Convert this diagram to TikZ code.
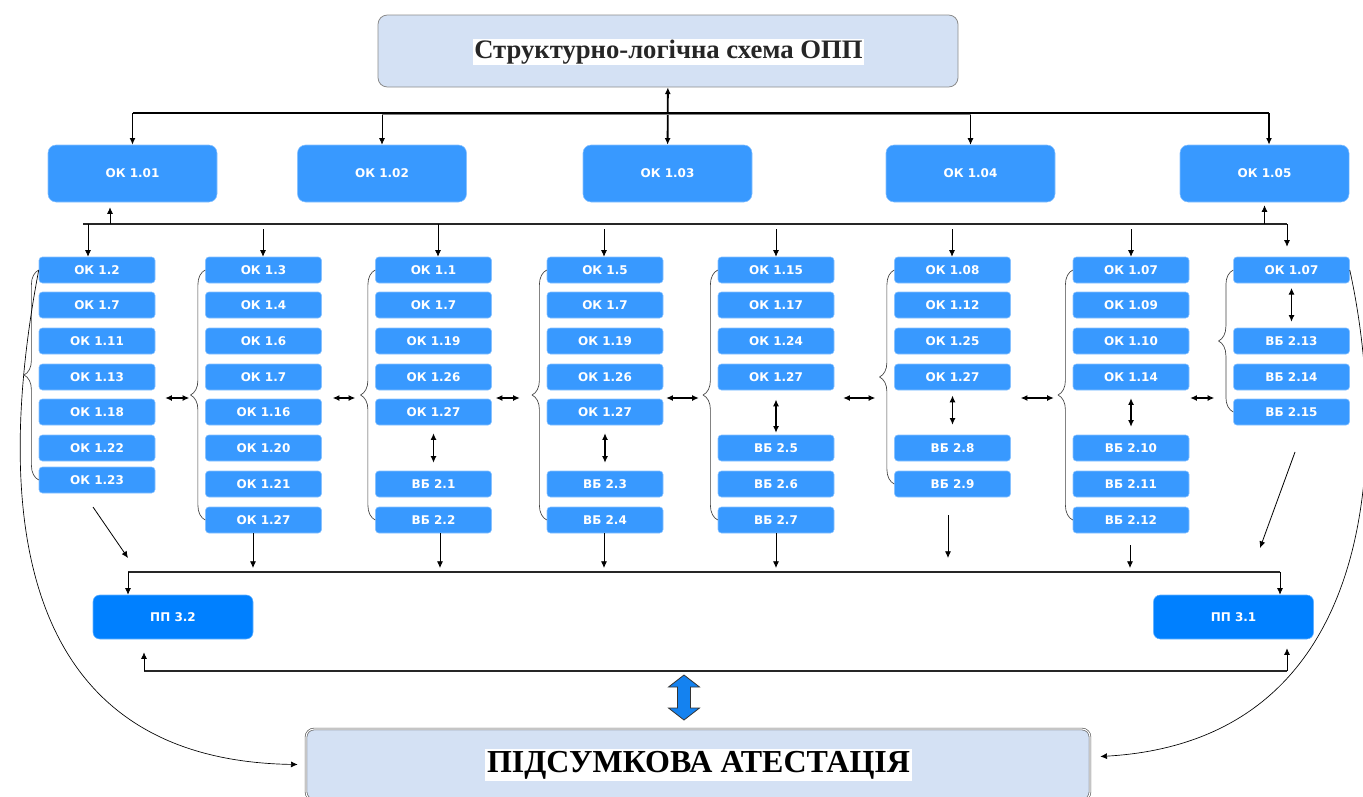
\documentclass[tikz,border=0pt]{standalone}
\usepackage{fontspec}
\setmainfont{Liberation Serif}
\newfontfamily\boxfont{DejaVu Sans}
\usetikzlibrary{arrows.meta,calc,decorations.pathreplacing}
\definecolor{okblue}{RGB}{56,153,255}
\definecolor{ppblue}{RGB}{0,128,255}
\definecolor{headfill}{RGB}{212,225,244}
\definecolor{arrowblue}{RGB}{20,130,240}

\begin{document}
\begin{tikzpicture}[x=0.75pt,y=0.75pt,yscale=-1,xscale=1,
  okbig/.style={rectangle,rounded corners=6pt,fill=okblue,draw=okblue!60!white,line width=0.4pt,minimum width=126.75pt,minimum height=42.75pt,text=white,font=\boxfont\bfseries\fontsize{9}{10}\selectfont},
  oksm/.style={okbig,rounded corners=2.5pt,minimum width=87pt,minimum height=19.5pt},
  ppbox/.style={okbig,fill=ppblue,draw=ppblue!60!white,minimum width=120pt,minimum height=33pt,rounded corners=5pt},
  headbox/.style={rectangle,rounded corners=7pt,fill=headfill,draw=black!45,line width=0.6pt,minimum width=435pt,minimum height=54pt},
  finalbox/.style={rectangle,rounded corners=6pt,fill=headfill,draw=black!65,double=white,double distance=0.8pt,line width=0.5pt,minimum width=588pt,minimum height=53.25pt},
  arr/.style={-{Latex[length=5pt,width=4.5pt]},line width=0.6pt},
  dbl/.style={{Latex[length=5pt,width=4.5pt]}-{Latex[length=5pt,width=4.5pt]},line width=0.8pt},
  brc/.style={decorate,decoration={brace,amplitude=11pt},line width=0.5pt,draw=black!75}]
\useasboundingbox (0,0) rectangle (1363,796);

% header and final boxes
\node[headbox] (title) at (668,51) {};
\node[fill=white,inner sep=1pt,text=black!85,font=\bfseries\fontsize{20}{24}\selectfont] (titletext) at (668.5,52) {Структурно-логічна схема ОПП};
\node[finalbox] (final) at (698,764.5) {};
\node[fill=white,inner sep=1.5pt,font=\bfseries\fontsize{24}{28}\selectfont] (finaltext) at (698.5,765) {ПІДСУМКОВА АТЕСТАЦІЯ};

% first row
\node[okbig] (ok101) at (132.5,173.5) {ОК 1.01};
\node[okbig] (ok102) at (382,173.5) {ОК 1.02};
\node[okbig] (ok103) at (667.5,173.5) {ОК 1.03};
\node[okbig] (ok104) at (970.5,173.5) {ОК 1.04};
\node[okbig] (ok105) at (1264.5,173.5) {ОК 1.05};

% column 1
\node[oksm] (c1a) at (97,270) {ОК 1.2};
\node[oksm] (c1b) at (97,305) {ОК 1.7};
\node[oksm] (c1c) at (97,341) {ОК 1.11};
\node[oksm] (c1d) at (97,377) {ОК 1.13};
\node[oksm] (c1e) at (97,412) {ОК 1.18};
\node[oksm] (c1f) at (97,448) {ОК 1.22};
\node[oksm] (c1g) at (97,480) {ОК 1.23};
% column 2
\node[oksm] (c2a) at (263.5,270) {ОК 1.3};
\node[oksm] (c2b) at (263.5,305) {ОК 1.4};
\node[oksm] (c2c) at (263.5,341) {ОК 1.6};
\node[oksm] (c2d) at (263.5,377) {ОК 1.7};
\node[oksm] (c2e) at (263.5,412) {ОК 1.16};
\node[oksm] (c2f) at (263.5,448) {ОК 1.20};
\node[oksm] (c2g) at (263.5,484) {ОК 1.21};
\node[oksm] (c2h) at (263.5,520) {ОК 1.27};
% column 3
\node[oksm] (c3a) at (433.5,270) {ОК 1.1};
\node[oksm] (c3b) at (433.5,305) {ОК 1.7};
\node[oksm] (c3c) at (433.5,341) {ОК 1.19};
\node[oksm] (c3d) at (433.5,377) {ОК 1.26};
\node[oksm] (c3e) at (433.5,412) {ОК 1.27};
\node[oksm] (c3f) at (433.5,484) {ВБ 2.1};
\node[oksm] (c3g) at (433.5,520) {ВБ 2.2};
% column 4
\node[oksm] (c4a) at (605,270) {ОК 1.5};
\node[oksm] (c4b) at (605,305) {ОК 1.7};
\node[oksm] (c4c) at (605,341) {ОК 1.19};
\node[oksm] (c4d) at (605,377) {ОК 1.26};
\node[oksm] (c4e) at (605,412) {ОК 1.27};
\node[oksm] (c4f) at (605,484) {ВБ 2.3};
\node[oksm] (c4g) at (605,520) {ВБ 2.4};
% column 5
\node[oksm] (c5a) at (776,270) {ОК 1.15};
\node[oksm] (c5b) at (776,305) {ОК 1.17};
\node[oksm] (c5c) at (776,341) {ОК 1.24};
\node[oksm] (c5d) at (776,377) {ОК 1.27};
\node[oksm] (c5e) at (776,448) {ВБ 2.5};
\node[oksm] (c5f) at (776,484) {ВБ 2.6};
\node[oksm] (c5g) at (776,520) {ВБ 2.7};
% column 6
\node[oksm] (c6a) at (952.5,270) {ОК 1.08};
\node[oksm] (c6b) at (952.5,305) {ОК 1.12};
\node[oksm] (c6c) at (952.5,341) {ОК 1.25};
\node[oksm] (c6d) at (952.5,377) {ОК 1.27};
\node[oksm] (c6e) at (952.5,448) {ВБ 2.8};
\node[oksm] (c6f) at (952.5,484) {ВБ 2.9};
% column 7
\node[oksm] (c7a) at (1131,270) {ОК 1.07};
\node[oksm] (c7b) at (1131,305) {ОК 1.09};
\node[oksm] (c7c) at (1131,341) {ОК 1.10};
\node[oksm] (c7d) at (1131,377) {ОК 1.14};
\node[oksm] (c7e) at (1131,448) {ВБ 2.10};
\node[oksm] (c7f) at (1131,484) {ВБ 2.11};
\node[oksm] (c7g) at (1131,520) {ВБ 2.12};
% column 8
\node[oksm] (c8a) at (1291.5,270) {ОК 1.07};
\node[oksm] (c8b) at (1291.5,341) {ВБ 2.13};
\node[oksm] (c8c) at (1291.5,377) {ВБ 2.14};
\node[oksm] (c8d) at (1291.5,412) {ВБ 2.15};

% practice
\node[ppbox] (pp32) at (173,617) {ПП 3.2};
\node[ppbox] (pp31) at (1233.5,617) {ПП 3.1};

% top bus
\coordinate (tb) at (0,113);
\coordinate (tb2) at (0,114.5);
\draw[dbl,line width=1.4pt] (title) -- (ok103);
\draw[line width=1.4pt] (ok101.north |- tb) -- (1269,113) coordinate (tbr);
\draw[black!50,line width=1.2pt] (ok102.north |- tb2) -- (ok104.north |- tb2);
\draw[arr,line width=1.4pt] (ok101.north |- tb) -- (ok101);
\draw[arr] (ok102.north |- tb2) -- (ok102);
\draw[arr] (ok104.north |- tb2) -- (ok104);
\draw[arr,line width=1.4pt] (tbr) -- (tbr |- ok105.north);

% middle bus
\coordinate (mbl) at (83,224);
\coordinate (mbr) at (1287,224);
\coordinate (u1) at (110,224);
\draw[line width=1.2pt,black!85] (mbl) -- (mbr);
\draw[arr] (u1) -- ($(u1 |- ok101.south)+(0,5)$);
\draw[arr] (ok105.south |- mbr) -- ($(ok105.south)+(0,3)$);
\coordinate (d1) at (88,224);
\coordinate (d2) at (263,229);
\coordinate (d3) at (438,224);
\coordinate (d4) at (604,229);
\coordinate (d5) at (776,229);
\coordinate (d6) at (952,229);
\coordinate (d7) at (1131,229);
\draw[arr] (d1) -- (d1 |- c1a.north);
\draw[arr] (d2) -- (d2 |- c2a.north);
\draw[arr] (d3) -- (d3 |- c3a.north);
\draw[arr] (d4) -- (d4 |- c4a.north);
\draw[arr] (d5) -- (d5 |- c5a.north);
\draw[arr] (d6) -- (d6 |- c6a.north);
\draw[arr] (d7) -- (d7 |- c7a.north);
\draw[arr] (mbr) -- ($(mbr |- c8a.north)+(0,-10)$);

% braces
\draw[brc] (c1g.west) -- (c1a.west);
\draw[brc] (c2h.west) -- (c2a.west);
\draw[brc] (c3g.west) -- (c3a.west);
\draw[brc] (c4g.west) -- (c4a.west);
\draw[brc] (c5g.west) -- (c5a.west);
\draw[brc] (c6f.west) -- (c6a.west);
\draw[brc] (c7g.west) -- (c7a.west);
\draw[brc] (c8d.west) -- (c8a.west);

% links inside columns
\draw[dbl,shorten <=6pt,shorten >=6pt] (c3e) -- (c3f);
\draw[dbl,shorten <=6pt,shorten >=6pt] (c4e) -- (c4f);
\draw[dbl,shorten <=7pt,shorten >=1.5pt] (c5d) -- (c5e);
\draw[dbl,shorten <=4pt,shorten >=7.5pt] (c6d) -- (c6e);
\draw[dbl,shorten <=6pt,shorten >=6pt] (c7d) -- (c7e);
\draw[dbl,shorten <=3.5pt,shorten >=4.5pt] (c8a) -- (c8b);

% links between columns
\coordinate (hr) at (0,398);
\draw[dbl] ($(c1e.east |- hr)+(10,0)$) -- ($(c2a.west |- hr)+(-16,0)$);
\draw[dbl] ($(c2e.east |- hr)+(11,0)$) -- ($(c3a.west |- hr)+(-20,0)$);
\draw[dbl] ($(c3e.east |- hr)+(4,0)$) -- ($(c4a.west |- hr)+(-27,0)$);
\draw[dbl] ($(c4e.east |- hr)+(3,0)$) -- ($(c5a.west |- hr)+(-19,0)$);
\draw[dbl] ($(c5d.east |- hr)+(9,0)$) -- ($(c6a.west |- hr)+(-19,0)$);
\draw[dbl] ($(c6d.east |- hr)+(10,0)$) -- ($(c7a.west |- hr)+(-19,0)$);
\draw[dbl] ($(c7d.east |- hr)+(1,0)$) -- ($(c8a.west |- hr)+(-19,0)$);

% lower bus
\coordinate (lbl) at (128,572);
\coordinate (lbr) at (1280,572);
\draw[line width=1.2pt,black!85] (lbl) -- (lbr);
\draw[arr] (lbl) -- (lbl |- pp32.north);
\draw[arr] (lbr) -- (lbr |- pp31.north);
\coordinate (s1) at (93,507);
\coordinate (e1) at (128,558);
\coordinate (e2) at (253,568);
\coordinate (e3) at (440,568);
\coordinate (e4) at (604,568);
\coordinate (e5) at (776,568);
\coordinate (s6) at (948,515);
\coordinate (e6) at (948,558);
\coordinate (s7) at (1130,545);
\coordinate (e7) at (1130,568);
\coordinate (s8) at (1295,452);
\coordinate (e8) at (1260,548);
\draw[arr] (s1) -- (e1);
\draw[arr] (e2 |- c2h.south) -- (e2);
\draw[arr] (e3 |- c3g.south) -- (e3);
\draw[arr] (e4 |- c4g.south) -- (e4);
\draw[arr] (e5 |- c5g.south) -- (e5);
\draw[arr] (s6) -- (e6);
\draw[arr] (s7) -- (e7);
\draw[arr] (s8) -- (e8);

% bottom bus
\coordinate (bbl) at (144,671);
\coordinate (bbr) at (1287,671);
\draw[line width=1.2pt,black!85] (bbl) -- (bbr);
\draw[arr] (bbl) -- ($(bbl |- pp32.south)+(0,13)$);
\draw[arr] (bbr) -- ($(bbr |- pp31.south)+(0,9)$);

% big arrow to final
\draw[fill=arrowblue,draw=black!80,line width=0.6pt] (684,675) -- (699.5,687) -- (690.5,687) -- (690.5,708) -- (699.5,708) -- (684,720) -- (668.5,708) -- (677.5,708) -- (677.5,687) -- (668.5,687) -- cycle;

% curves to final
\draw[arr,line width=0.5pt] (c1a.west) .. controls (-5,500) and (10,760) .. ($(final.west)+(-8,0)$);
\draw[arr,line width=0.5pt] (c8a.east) .. controls (1385,430) and (1390,740) .. ($(final.east)+(10,-8)$);
\end{tikzpicture}
\end{document}
